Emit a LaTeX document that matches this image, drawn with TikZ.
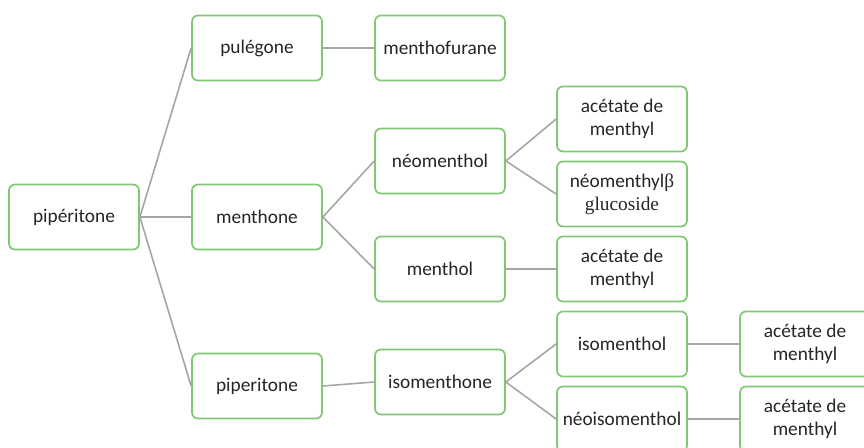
\documentclass[tikz,border=0pt]{standalone}
\usepackage{fontspec}
\setmainfont{Carlito}
\newfontfamily\serifglu{Liberation Serif}
\usepackage{xcolor}
\usetikzlibrary{positioning}
\definecolor{boxgreen}{RGB}{128,200,116}
\definecolor{linegray}{RGB}{166,166,166}
\tikzset{
    box/.style={draw=boxgreen, line width=1.3pt, rounded corners=4.5pt, fill=white, minimum width=97.5pt, minimum height=48.75pt, align=center, text=black!85, font=\fontsize{14.5}{17}\selectfont}, % every compound box
    link/.style={draw=linegray, line width=1.2pt}, % grey connector
}

\begin{document}
\begin{tikzpicture}[node distance=137.25pt, on grid, auto]
        \useasboundingbox (0,0) rectangle (648pt,-335.25pt);
        \node[box] (pip) at (55.5pt,-162.75pt) {pipéritone};
        \node[box] (mone) [right=of pip] {menthone};
        \node[box] (pul) [above=126.75pt of mone] {pulégone};
        \node[box] (pip2) [below=126.75pt of mone] {piperitone};
        \node[box] (mfur) [right=of pul] {menthofurane};

        \node[box] (neo) [above right=42pt and 137.25pt of mone] {néomenthol};
        \node[box] (mol) [below right=39pt and 137.25pt of mone] {menthol};
        \node[box] (ac1) [above right=31.5pt and 136.5pt of neo] {acétate de\\menthyl};
        \node[box] (glu) [below right=24.75pt and 136.5pt of neo] {néomenthyl{\serifglu β}\\{\serifglu glucoside}};
        \node[box] (ac2) [right=136.5pt of mol] {acétate de\\menthyl};

        \node[box] (iso) [above right=3pt and 137.25pt of pip2] {isomenthone};
        \node[box] (isol) [above right=28.5pt and 136.5pt of iso] {isomenthol};
        \node[box] (neoiso) [below right=27.75pt and 136.5pt of iso] {néoisomenthol};
        \node[box] (ac3) [right=of isol] {acétate de\\menthyl};
        \node[box] (ac4) [right=of neoiso] {acétate de\\menthyl};

        \path[link]
                (pip.east) edge (pul.west)
                           edge (mone.west)
                           edge (pip2.west)
                (pul.east) edge (mfur.west)
                (mone.east) edge (neo.west)
                            edge (mol.west)
                (neo.east) edge (ac1.west)
                           edge (glu.west)
                (mol.east) edge (ac2.west)
                (pip2.east) edge (iso.west)
                (iso.east) edge (isol.west)
                           edge (neoiso.west)
                (isol.east) edge (ac3.west)
                (neoiso.east) edge (ac4.west);

    \end{tikzpicture}
\end{document}
